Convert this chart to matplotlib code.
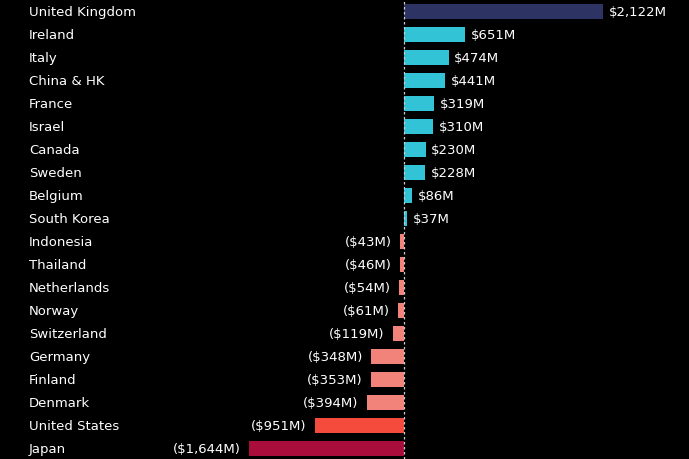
import matplotlib
matplotlib.use("Agg")
import matplotlib.pyplot as plt
from matplotlib.transforms import blended_transform_factory

countries = ["United Kingdom", "Ireland", "Italy", "China & HK", "France", "Israel",
             "Canada", "Sweden", "Belgium", "South Korea", "Indonesia", "Thailand",
             "Netherlands", "Norway", "Switzerland", "Germany", "Finland", "Denmark",
             "United States", "Japan"]
values = [2122, 651, 474, 441, 319, 310, 230, 228, 86, 37, -43, -46, -54, -61,
          -119, -348, -353, -394, -951, -1644]


def bar_color(name, v):
    if name == "United Kingdom":
        return "#2d3362"
    if name == "United States":
        return "#f44b3c"
    if name == "Japan":
        return "#a80d3b"
    return "#33c3d6" if v >= 0 else "#f2837a"


def fmt(v):
    s = f"${abs(v):,}M"
    return s if v >= 0 else f"({s})"


fig = plt.figure(figsize=(6.89, 4.60), dpi=100, facecolor="black")
ax = fig.add_axes([0, 0, 1, 1], facecolor="black")

y = list(range(len(countries)))
ax.barh(y, values, height=0.65, color=[bar_color(c, v) for c, v in zip(countries, values)])
ax.set_xlim(-4298, 3032)
ax.set_ylim(19.47, -0.543)
ax.axvline(0, color="#cccccc", lw=0.9, ls=(0, (2, 2)))

trans = blended_transform_factory(ax.transAxes, ax.transData)
for i, (c, v) in enumerate(zip(countries, values)):
    ax.text(29 / 689, i, c, transform=trans, color="white", fontsize=9.5,
            va="center", ha="left")
    if v >= 0:
        ax.annotate(fmt(v), (v, i), xytext=(4, 0), textcoords="offset points",
                    color="white", fontsize=9.5, va="center", ha="left")
    else:
        ax.annotate(fmt(v), (v, i), xytext=(-6, 0), textcoords="offset points",
                    color="white", fontsize=9.5, va="center", ha="right")

ax.axis("off")
fig.savefig("out.png", dpi=100, facecolor="black")
